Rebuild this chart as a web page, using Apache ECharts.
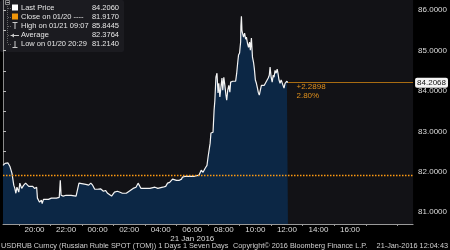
<!DOCTYPE html>
<html><head><meta charset="utf-8">
<script src="https://cdn.jsdelivr.net/npm/echarts@6/dist/echarts.min.js"></script>
<style>html,body{margin:0;padding:0;background:#000}#c{width:450px;height:250px}</style>
</head><body><div id="c"></div>
<script>
// times (20 Jan 18:00 -> 21 Jan 12:04), USDRUB price
const times = ["18:00","18:08","18:15","18:19","18:26","18:34","18:41","18:45","18:49","18:53","19:00","19:04","19:11","19:19","19:26","19:30","19:38","19:45","19:53","20:00","20:08","20:11","20:19","20:26","20:29","20:34","20:41","20:53","21:04","21:23","21:34","21:38","21:41","21:49","22:00","22:19","22:38","22:45","22:49","22:56","23:15","23:26","23:34","23:41","23:49","00:00","00:11","00:22","00:30","00:38","00:45","00:53","01:00","01:04","01:15","01:23","01:34","01:49","01:56","02:04","02:15","02:26","02:34","02:41","02:45","03:00","03:19","03:26","03:38","03:49","03:56","04:08","04:19","04:26","04:34","04:41","04:45","05:00","05:11","05:19","05:23","05:34","05:49","06:08","06:26","06:34","06:41","06:49","06:56","07:00","07:08","07:11","07:19","07:23","07:26","07:30","07:34","07:38","07:41","07:45","07:49","07:53","07:56","08:00","08:04","08:08","08:11","08:15","08:19","08:23","08:26","08:34","08:41","08:45","08:49","08:53","08:56","09:00","09:02","09:04","09:05","09:07","09:09","09:11","09:15","09:19","09:23","09:26","09:30","09:34","09:38","09:41","09:45","09:49","09:53","09:56","10:00","10:04","10:08","10:11","10:15","10:19","10:23","10:26","10:34","10:38","10:45","10:49","10:53","10:56","11:00","11:04","11:08","11:11","11:15","11:19","11:23","11:26","11:30","11:34","11:38","11:41","11:45","11:49","11:53","11:56","12:00","12:04"];
const prices = [82.16,82.21,82.19,82.22,82.14,81.97,81.67,81.59,81.47,81.62,81.50,81.72,81.59,81.67,81.72,81.74,81.64,81.62,81.64,81.59,81.62,81.35,81.25,81.30,81.214,81.32,81.35,81.32,81.35,81.35,81.37,81.79,81.42,81.40,81.42,81.42,81.40,81.42,81.72,81.69,81.69,81.67,81.72,81.67,81.57,81.57,81.58,81.52,81.54,81.47,81.50,81.40,81.40,81.50,81.52,81.50,81.47,81.47,81.50,81.54,81.59,81.62,81.72,81.69,81.59,81.59,81.59,81.62,81.62,81.59,81.62,81.62,81.64,81.72,81.74,81.72,81.82,81.79,81.79,81.82,81.87,81.89,81.89,81.89,81.92,82.04,81.99,82.09,82.16,82.36,82.71,82.96,82.98,83.52,83.77,84.34,84.44,83.95,84.19,83.85,84.09,84.32,84.02,84.34,84.14,83.90,83.77,84.02,84.14,83.97,84.22,84.24,84.27,84.24,84.44,84.71,84.89,84.94,85.08,85.21,85.60,85.8445,85.50,85.43,85.33,85.43,85.28,85.33,85.18,85.08,85.21,85.01,85.31,84.84,84.71,84.56,84.27,84.19,84.07,83.97,83.90,84.02,84.14,84.12,84.14,84.19,84.22,84.32,84.39,84.59,84.34,84.22,84.39,84.34,84.51,84.44,84.54,84.44,84.27,84.19,84.27,84.22,84.19,84.07,84.19,84.22,84.24,84.206];
const closePrice = 81.917;
const yTickLabels = [81, 82, 83, 84, 85, 86];
const yMinorTicks = [81, 81.5, 82, 82.5, 83, 83.5, 84, 84.5, 85, 85.5, 86];
const lastLabel = "84.2068";
const changeLabel = "+2.2898\n2.80%";
const dateLabel = "21 Jan 2016";
const legendRows = [
  ["Last Price", "84.2060"],
  ["Close on 01/20 ----", "81.9170"],
  ["High on 01/21 09:07", "85.8445"],
  ["Average", "82.3764"],
  ["Low on 01/20 20:29", "81.2140"]
];
const footerLeft = "USDRUB Curncy (Russian Ruble SPOT (TOM)) 1 Days 1 Seven Days";
const footerMid = "Copyright\u00a9 2016 Bloomberg Finance L.P.";
const footerRight = "21-Jan-2016 12:04:43";

// hours since 20 Jan 18:00
function toHours(t){const [h,m]=t.split(":").map(Number);const v=h+m/60;return v>=18?v-18:v+6;}
const data = times.map((t,i)=>[toHours(t), prices[i]]);
const last = data[data.length-1];

const FONT = '"Liberation Sans", Arial, sans-serif';
const ORANGE = '#e0901c';

const legendEls = [
  {type:'rect', shape:{x:0,y:0,width:124,height:52,r:2}, style:{fill:'#1b1b20'}},
  {type:'rect', shape:{x:5.5,y:0.5,width:4,height:4}, style:{fill:'none',stroke:'#888',lineWidth:1}},
  {type:'line', shape:{x1:6.5,y1:2.5,x2:9,y2:2.5}, style:{stroke:'#aaa'}},
  {type:'line', shape:{x1:7.5,y1:6,x2:7.5,y2:44}, style:{stroke:'#666',lineDash:[1,1]}},
  {type:'rect', shape:{x:12,y:4.5,width:6,height:6}, style:{fill:'#ffffff'}},
  {type:'rect', shape:{x:12,y:13.5,width:6,height:6}, style:{fill:'#f0960a'}},
  {type:'line', shape:{x1:12.5,y1:22.5,x2:17.5,y2:22.5}, style:{stroke:'#ccc'}},
  {type:'line', shape:{x1:15,y1:22.5,x2:15,y2:29}, style:{stroke:'#ccc'}},
  {type:'line', shape:{x1:11,y1:35.5,x2:19,y2:35.5}, style:{stroke:'#ccc'}},
  {type:'polygon', shape:{points:[[11,35.5],[14,33.5],[14,37.5]]}, style:{fill:'#ccc'}},
  {type:'line', shape:{x1:15,y1:41,x2:15,y2:47.5}, style:{stroke:'#ccc'}},
  {type:'line', shape:{x1:12.5,y1:47.5,x2:17.5,y2:47.5}, style:{stroke:'#ccc'}}
];
legendRows.forEach((r,i)=>{
  const y = 8 + i*9;
  legendEls.push({type:'line', shape:{x1:8,y1:y+0.5,x2:11,y2:y+0.5}, style:{stroke:'#666',lineDash:[1,1]}});
  legendEls.push({type:'text', style:{text:r[0], x:21, y:y, fill:'#e6e6e6', font:'7.5px '+FONT, textVerticalAlign:'middle'}});
  legendEls.push({type:'text', style:{text:r[1], x:119, y:y, fill:'#e6e6e6', font:'7.5px '+FONT, textAlign:'right', textVerticalAlign:'middle'}});
});
legendEls.push({type:'text', style:{text:footerLeft, x:1, y:246, fill:'#d0d0d0', font:'7.3px '+FONT, textVerticalAlign:'middle'}});
legendEls.push({type:'text', style:{text:footerMid, x:233, y:246, fill:'#d0d0d0', font:'7.3px '+FONT, textVerticalAlign:'middle'}});
legendEls.push({type:'text', style:{text:footerRight, x:448, y:246, fill:'#d0d0d0', font:'7.3px '+FONT, textAlign:'right', textVerticalAlign:'middle'}});

const chart = echarts.init(document.getElementById('c'), null, {renderer:'canvas'});
chart.setOption({
  backgroundColor:'#000',
  animation:false,
  grid:{left:1, right:33, top:0, bottom:26, show:true, backgroundColor:'#121216', borderWidth:0},
  xAxis:{
    type:'value', min:0, max:26, interval:2,
    axisLine:{show:true, lineStyle:{color:'#9a9a9a', width:1}},
    axisTick:{show:false},
    minorTick:{show:true, splitNumber:2, length:2, lineStyle:{color:'#9a9a9a'}},
    splitLine:{show:false},
    axisLabel:{
      color:'#dcdcdc', fontSize:8, fontFamily:FONT, margin:1, lineHeight:9,
      formatter:function(v){
        if(v<=0||v>=24) return '';
        const h=(18+v)%24; const s=(h<10?'0':'')+h+':00';
        return v===12 ? s+'\n'+dateLabel : s;
      }
    }
  },
  yAxis:{
    type:'value', position:'right', min:80.71, max:86.25,
    axisLine:{show:true, lineStyle:{color:'#8a8a8a', width:1}},
    axisTick:{show:true, length:3, inside:false, customValues:yMinorTicks, lineStyle:{color:'#bbbbbb'}},
    splitLine:{show:false},
    axisLabel:{customValues:yTickLabels, color:'#dcdcdc', fontSize:8, fontFamily:FONT, margin:5,
      formatter:function(v){return v.toFixed(4);}}
  },
  series:[{
    type:'line', data:data, showSymbol:false, symbol:'none',
    lineStyle:{color:'#f4f4f4', width:1.2},
    areaStyle:{color:'#0c2745', opacity:1, origin:'start'},
    markLine:{
      silent:true, symbol:['none','none'],
      data:[
        [{coord:[0, closePrice], lineStyle:{color:'#ff9a10', type:[1.5,1.5], width:1.3}, label:{show:false}},
         {coord:[26, closePrice]}],
        [{coord:[last[0], last[1]], lineStyle:{color:'#a86c12', type:'solid', width:1},
          label:{show:true, position:'end', formatter:lastLabel, color:'#111', backgroundColor:'#f4f4f4',
                 fontSize:8, fontFamily:FONT, padding:[1,2,1,2], borderRadius:2, distance:2}},
         {coord:[26, last[1]]}]
      ]
    },
    markPoint:{
      silent:true, symbol:'circle', symbolSize:1, itemStyle:{color:'transparent'},
      data:[{coord:[last[0], last[1]],
        label:{show:true, position:'right', formatter:changeLabel, color:ORANGE, fontSize:8, fontFamily:FONT,
               lineHeight:9, offset:[3,9], align:'left'}}]
    }
  }],
  graphic:legendEls
});
</script></body></html>
